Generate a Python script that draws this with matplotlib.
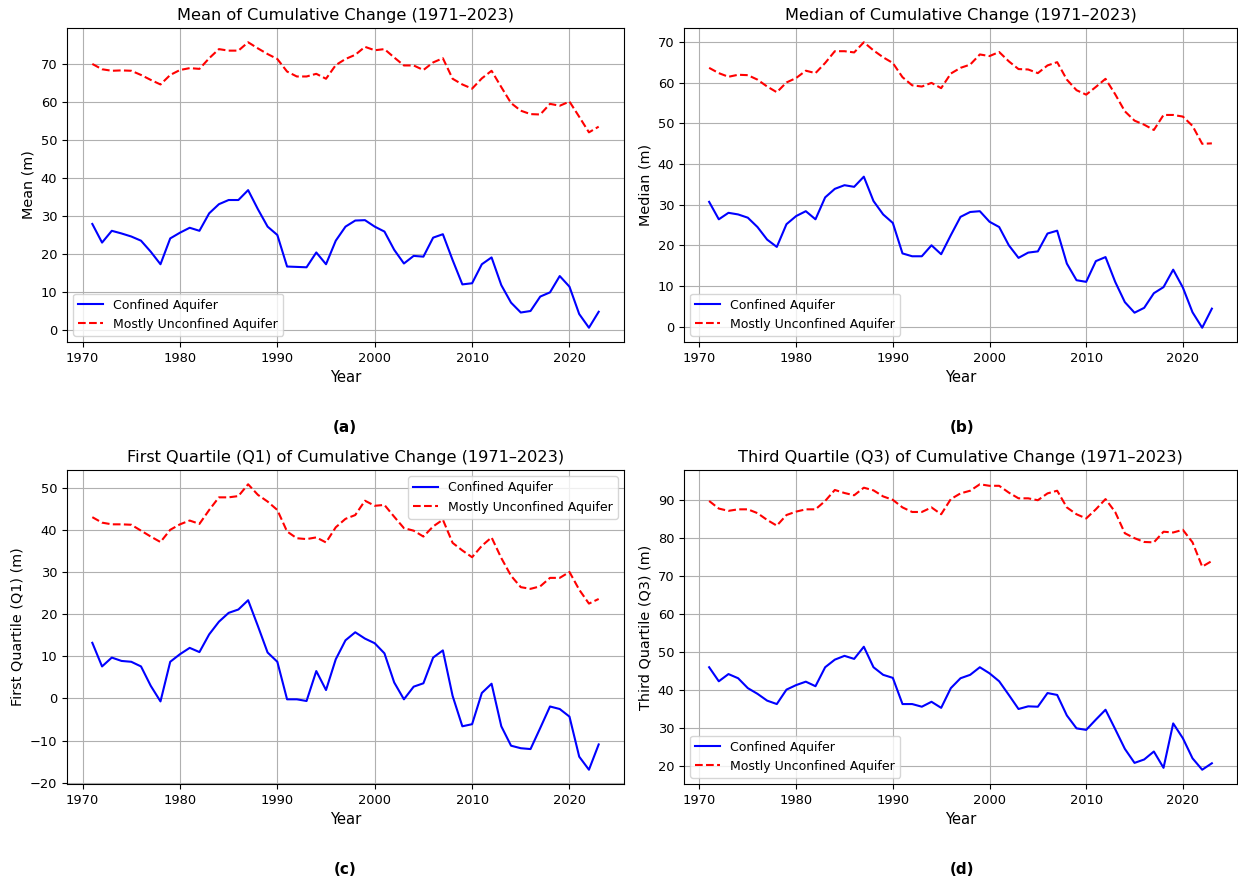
import matplotlib
matplotlib.use("Agg")
import matplotlib.pyplot as plt
import numpy as np

years = np.arange(1971, 2024)

# panel (a) - mean
mean_conf = [27.9, 23.0, 26.1, 25.4, 24.6, 23.5, 20.6, 17.3, 24.1, 25.6,
             26.9, 26.1, 30.7, 33.1, 34.2, 34.2, 36.8, 31.8, 27.2, 25.0,
             16.7, 16.6, 16.5, 20.4, 17.3, 23.5, 27.2, 28.8, 28.9, 27.2,
             25.9, 21.1, 17.5, 19.5, 19.3, 24.3, 25.2, 18.4, 12.0, 12.3,
             17.3, 19.1, 11.8, 7.2, 4.6, 5.0, 8.8, 9.9, 14.2, 11.4,
             4.2, 0.6, 4.8]
mean_unconf = [70.0, 68.6, 68.2, 68.3, 68.2, 67.1, 65.8, 64.6, 67.1, 68.4,
               68.9, 68.7, 71.5, 73.9, 73.5, 73.5, 75.7, 74.1, 72.6, 71.3,
               68.0, 66.7, 66.7, 67.4, 66.1, 69.7, 71.3, 72.4, 74.5, 73.6,
               73.9, 71.7, 69.6, 69.6, 68.4, 70.4, 71.5, 66.1, 64.6, 63.5,
               66.2, 68.2, 63.9, 59.7, 57.7, 56.8, 56.7, 59.5, 59.0, 60.1,
               56.1, 52.0, 53.5]

# panel (b) - median
med_conf = [30.7, 26.4, 28.0, 27.6, 26.8, 24.5, 21.4, 19.6, 25.2, 27.2,
            28.4, 26.4, 31.8, 33.9, 34.8, 34.4, 36.9, 30.9, 27.6, 25.5,
            18.0, 17.3, 17.3, 20.0, 17.8, 22.5, 27.0, 28.2, 28.4, 25.8,
            24.5, 20.0, 16.9, 18.2, 18.5, 22.9, 23.6, 15.5, 11.4, 11.0,
            16.1, 17.1, 11.0, 6.0, 3.4, 4.6, 8.2, 9.7, 14.0, 9.6,
            3.5, -0.3, 4.4]
med_unconf = [63.7, 62.4, 61.5, 62.0, 61.9, 60.8, 59.1, 57.7, 60.1, 61.2,
              63.0, 62.4, 64.9, 67.8, 67.8, 67.5, 70.0, 68.0, 66.3, 64.9,
              61.4, 59.4, 59.1, 60.0, 58.7, 62.3, 63.7, 64.5, 67.0, 66.6,
              67.6, 65.3, 63.4, 63.3, 62.4, 64.3, 65.1, 60.8, 58.2, 57.1,
              59.0, 61.0, 57.2, 53.0, 50.7, 49.7, 48.4, 52.1, 52.1, 51.7,
              49.4, 45.0, 45.1]

# panel (c) - first quartile
q1_conf = [13.2, 7.6, 9.7, 8.9, 8.7, 7.6, 3.0, -0.7, 8.7, 10.5,
           12.0, 11.0, 15.2, 18.2, 20.3, 21.1, 23.3, 17.2, 10.9, 8.7,
           -0.2, -0.2, -0.6, 6.5, 2.0, 9.3, 13.8, 15.7, 14.2, 13.1,
           10.7, 3.8, -0.2, 2.8, 3.6, 9.7, 11.4, 0.6, -6.6, -6.1,
           1.3, 3.5, -6.6, -11.2, -11.8, -12.0, -7.0, -1.9, -2.5, -4.3,
           -13.8, -16.9, -10.9]
q1_unconf = [43.0, 41.7, 41.3, 41.3, 41.2, 39.8, 38.4, 37.1, 40.0, 41.3,
             42.2, 41.4, 44.7, 47.7, 47.7, 48.0, 50.8, 48.3, 46.7, 44.7,
             39.6, 38.0, 37.8, 38.2, 37.0, 40.6, 42.6, 43.5, 46.9, 45.7,
             45.9, 43.1, 40.4, 39.8, 38.4, 40.8, 42.4, 36.9, 35.1, 33.5,
             36.2, 38.2, 33.3, 29.1, 26.4, 26.0, 26.6, 28.6, 28.6, 30.0,
             25.8, 22.5, 23.6]

# panel (d) - third quartile
q3_conf = [45.9, 42.2, 44.1, 43.0, 40.4, 38.9, 37.1, 36.2, 40.0, 41.2,
           42.1, 40.9, 45.9, 47.9, 48.9, 48.1, 51.3, 45.9, 43.9, 43.1,
           36.2, 36.2, 35.5, 36.8, 35.2, 40.4, 43.0, 43.9, 45.9, 44.3,
           42.2, 38.6, 34.9, 35.6, 35.5, 39.1, 38.6, 33.2, 29.8, 29.4,
           32.1, 34.7, 29.6, 24.4, 20.7, 21.6, 23.7, 19.4, 31.1, 27.2,
           21.9, 18.9, 20.6]
q3_unconf = [89.7, 87.7, 87.1, 87.5, 87.5, 86.5, 84.7, 83.2, 86.0, 86.9,
             87.5, 87.5, 89.7, 92.6, 91.8, 91.2, 93.2, 92.5, 90.9, 90.0,
             88.0, 86.8, 86.8, 88.0, 86.2, 90.2, 91.7, 92.4, 94.1, 93.7,
             93.7, 91.9, 90.4, 90.4, 89.9, 91.7, 92.4, 88.0, 86.2, 85.1,
             87.5, 90.2, 86.8, 81.2, 79.9, 78.9, 78.8, 81.6, 81.4, 82.1,
             78.8, 72.4, 73.9]

panels = [
    ("Mean of Cumulative Change (1971\u20132023)", "Mean (m)", mean_conf, mean_unconf, "(a)"),
    ("Median of Cumulative Change (1971\u20132023)", "Median (m)", med_conf, med_unconf, "(b)"),
    ("First Quartile (Q1) of Cumulative Change (1971\u20132023)", "First Quartile (Q1) (m)", q1_conf, q1_unconf, "(c)"),
    ("Third Quartile (Q3) of Cumulative Change (1971\u20132023)", "Third Quartile (Q3) (m)", q3_conf, q3_unconf, "(d)"),
]

W, H = 1238, 883
fig = plt.figure(figsize=(W / 100, H / 100), dpi=100)

# axes boxes in pixels: left, top, width, height
boxes = [(67, 28, 557, 314), (684, 28, 553, 314),
         (67, 470, 557, 314), (684, 470, 553, 314)]
label_pos = [(345, 428), (962, 428), (345, 870), (962, 870)]
legend_loc = ["lower left", "lower left", "upper right", "lower left"]

for i, (title, ylab, conf, unconf, tag) in enumerate(panels):
    l, t, w, h = boxes[i]
    ax = fig.add_axes([l / W, 1 - (t + h) / H, w / W, h / H])
    ax.plot(years, conf, 'b-', lw=1.5, label="Confined Aquifer")
    ax.plot(years, unconf, 'r--', lw=1.5, label="Mostly Unconfined Aquifer")
    ax.set_title(title, fontsize=11.6)
    ax.set_xlabel("Year", fontsize=10.6)
    ax.set_ylabel(ylab, fontsize=10.4)
    ax.tick_params(labelsize=9.4)
    ax.grid(True)
    ax.legend(loc=legend_loc[i], fontsize=9)
    x, y = label_pos[i]
    fig.text(x / W, 1 - y / H, tag, ha="center", va="center",
             fontsize=11, fontweight="bold")

fig.savefig("out.png", dpi=100)
